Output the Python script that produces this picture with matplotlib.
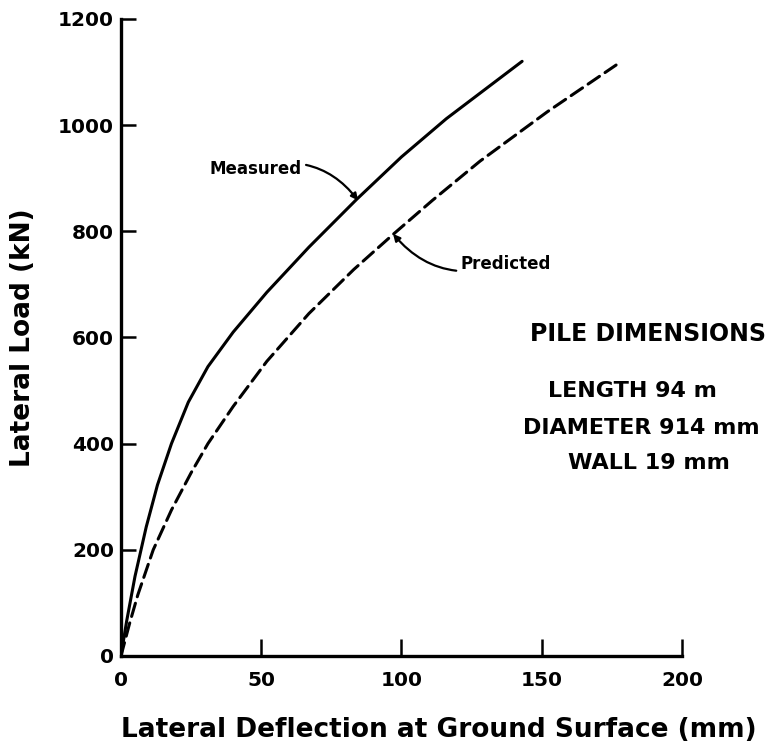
import numpy as np
import matplotlib
matplotlib.use("Agg")
import matplotlib.pyplot as plt

# Lateral load test - readings
measured_defl = [0, 2, 5, 9, 13, 18, 24, 31, 40, 52, 67, 84, 100, 116, 130, 143]
measured_load = [0, 65, 150, 243, 322, 400, 478, 545, 610, 685, 770, 860, 940, 1012, 1068, 1120]

predicted_defl = [0, 3, 6, 11.5, 18, 25, 31, 40, 52, 67, 83, 97, 111, 128, 152, 176.5]
predicted_load = [0, 60, 115, 200, 275, 345, 400, 470, 555, 645, 728, 794, 858, 932, 1025, 1113]

x_ticks = [0, 50, 100, 150, 200]
y_ticks = [0, 200, 400, 600, 800, 1000, 1200]

dims_title = "PILE DIMENSIONS"
dims_lines = ["LENGTH 94 m", "DIAMETER 914 mm", "WALL 19 mm"]

plt.rcParams['font.family'] = ['DejaVu Sans']
plt.rcParams['font.weight'] = 'bold'
plt.rcParams['axes.labelweight'] = 'bold'

fig = plt.figure(figsize=(7.73, 7.54), dpi=100)
ax = fig.add_axes([0.1565, 0.13, 0.7258, 0.845])

ax.plot(measured_defl, measured_load, color="black", lw=2.2, solid_capstyle="round",
        solid_joinstyle="round")
ax.plot(predicted_defl, predicted_load, color="black", lw=2.2, dashes=(4.5, 2.2),
        dash_capstyle="round")

ax.set_xlim(0, 200)
ax.set_ylim(0, 1200)
ax.set_xticks(x_ticks)
ax.set_yticks(y_ticks)
for side in ["top", "right"]:
    ax.spines[side].set_visible(False)
for side in ["left", "bottom"]:
    ax.spines[side].set_linewidth(2.4)
ax.tick_params(axis="x", direction="in", length=12, width=1.8, pad=11, labelsize=14.5)
ax.tick_params(axis="y", direction="in", length=11, width=1.8, pad=5, labelsize=14.5)

ax.set_xlabel("Lateral Deflection at Ground Surface (mm)", fontsize=19)
ax.set_ylabel("Lateral Load (kN)", fontsize=19, labelpad=16)
ax.xaxis.set_label_coords(0.567, -0.096)

# curve labels with curved leaders
ax.annotate("Measured", xy=(84.5, 858), xytext=(64.5, 918),
            fontsize=12, ha="right", va="center",
            arrowprops=dict(arrowstyle="-|>", lw=1.6, color="black", mutation_scale=10,
                            shrinkA=1, shrinkB=0,
                            connectionstyle="arc3,rad=-0.35"))
ax.annotate("Predicted", xy=(97, 795), xytext=(121, 739),
            fontsize=12, ha="left", va="center",
            arrowprops=dict(arrowstyle="-|>", lw=1.6, color="black", mutation_scale=10,
                            shrinkA=1, shrinkB=0,
                            connectionstyle="arc3,rad=-0.35"))

ax.text(187.9, 607, dims_title, fontsize=17, ha="center", va="center", clip_on=False)
line_x = [182.2, 185.4, 188.2]
line_y = [500, 429, 363]
for line, lx, ly in zip(dims_lines, line_x, line_y):
    ax.text(lx, ly, line, fontsize=16, ha="center", va="center", clip_on=False)

fig.savefig("out.png", dpi=100)
